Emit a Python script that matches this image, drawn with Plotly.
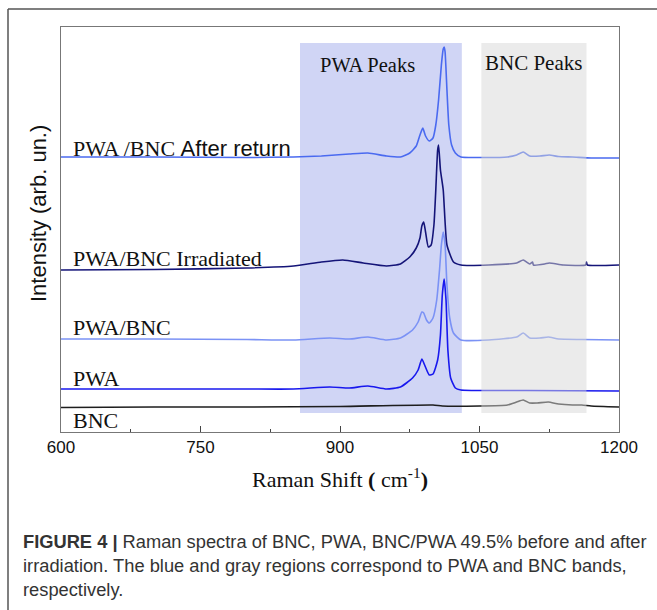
import plotly.graph_objects as go

# ---------------- data ----------------
after_x = [600, 700, 800, 850, 880, 910, 930, 950, 965, 975, 982, 986, 989, 992, 996, 1000, 1003, 1006, 1009, 1011, 1012, 1013, 1015, 1017, 1020, 1024, 1030, 1050, 1080, 1090, 1097, 1104, 1115, 1125, 1135, 1150, 1170, 1200]
after_y = [275, 275, 274.5, 275, 276, 278, 279, 276, 275, 279, 286, 297, 304, 296, 291, 294, 307, 332, 367, 383, 385, 380, 342, 307, 287, 279, 275, 274.5, 275, 277, 280, 276, 276, 277, 275.5, 275, 274, 274]

irr_x = [600, 700, 800, 850, 880, 903, 925, 950, 965, 975, 982, 986, 988, 990, 992, 995, 998, 1001, 1003, 1005, 1006, 1008, 1011, 1015, 1022, 1030, 1060, 1090, 1097, 1104, 1107, 1108, 1120, 1125, 1140, 1164, 1165, 1166, 1200]
irr_y = [162, 162.5, 164, 166, 170, 172, 169, 166, 168, 175, 184, 194, 206, 210, 200, 185, 187, 207, 242, 282, 287, 262, 242, 187, 170, 167, 167, 169, 172, 168, 170, 167, 168, 169, 167, 167, 170, 167, 167]

pb_x = [600, 700, 800, 850, 889, 910, 930, 950, 965, 978, 984, 988, 990, 993, 996, 1000, 1004, 1007, 1009, 1011, 1013, 1015, 1018, 1022, 1030, 1060, 1090, 1097, 1104, 1115, 1124, 1135, 1160, 1200]
pb_y = [93, 93, 92.5, 92, 94, 93, 95, 92, 94, 102, 110, 120, 119, 112, 109, 114, 132, 162, 187, 200, 187, 147, 114, 99, 92, 92, 95, 99, 94, 94, 95, 93, 92.5, 92]

pwa_x = [600, 700, 800, 850, 889, 910, 930, 950, 965, 978, 984, 988, 991, 996, 1000, 1005, 1008, 1010, 1012, 1014, 1016, 1019, 1024, 1030, 1100, 1200]
pwa_y = [43, 43, 43, 43, 45, 44, 46, 43, 45, 54, 62, 73, 67, 57, 58, 72, 97, 137, 153, 132, 82, 54, 44, 42, 41.5, 41]

bnc_x = [600, 700, 800, 900, 1000, 1010, 1050, 1080, 1090, 1097, 1104, 1112, 1124, 1135, 1150, 1160, 1170, 1200]
bnc_y = [24.5, 25, 25, 25.5, 27, 26, 26, 27, 30, 32, 29, 29, 30, 28, 27, 27, 26, 25]

labels = ["PWA /BNC <span style='font-family:Liberation Sans'>After return</span>",
          "PWA/BNC Irradiated", "PWA/BNC", "PWA", "BNC"]
label_y = [284, 174, 105, 54, 12]

x_ticks = [600, 750, 900, 1050, 1200]
pwa_band = [857, 1031]
bnc_band = [1052, 1165]
band_y = [19, 389]

# ---------------- figure ----------------
fig = go.Figure()
series = [
    (bnc_x, bnc_y, "#1e1e1e"),
    (pwa_x, pwa_y, "#1818ee"),
    (pb_x, pb_y, "#7b92f5"),
    (irr_x, irr_y, "#141478"),
    (after_x, after_y, "#4a6af0"),
]
for xs, ys, c in series:
    fig.add_trace(go.Scatter(x=xs, y=ys, mode="lines",
                             line=dict(color=c, width=1.6, shape="spline", smoothing=0.5),
                             hoverinfo="skip", showlegend=False))

L, R, T, B = 61, 38, 27, 178
W, H = 657, 610
pw = W - L - R
ph = H - T - B

def px(xp):
    return (xp - L) / pw

def py(yp):
    return (H - B - yp) / ph

shapes = [
    dict(type="rect", xref="x", yref="y", x0=pwa_band[0], x1=pwa_band[1], y0=band_y[0], y1=band_y[1],
         fillcolor="rgb(208,213,245)", line=dict(width=0), layer="below"),
    dict(type="rect", xref="x", yref="y", x0=bnc_band[0], x1=bnc_band[1], y0=band_y[0], y1=band_y[1],
         fillcolor="rgb(215,215,215)", opacity=0.5, line=dict(width=0), layer="above"),
    # outer figure frame (left and top)
    dict(type="line", xref="paper", yref="paper", x0=px(8), x1=px(8), y0=py(9), y1=py(612),
         line=dict(color="#555", width=1.5)),
    dict(type="line", xref="paper", yref="paper", x0=px(8), x1=px(660), y0=py(9), y1=py(9),
         line=dict(color="#555", width=1.5)),
]

annotations = []
for t, yv in zip(labels, label_y):
    annotations.append(dict(x=611, y=yv, xref="x", yref="y", text=t, showarrow=False,
                            xanchor="left", yanchor="middle",
                            font=dict(family="Liberation Serif", size=22, color="#111")))
annotations += [
    dict(x=930, y=367, xref="x", yref="y", text="PWA Peaks", showarrow=False,
         xanchor="center", yanchor="middle",
         font=dict(family="Liberation Serif", size=20.5, color="#111")),
    dict(x=1108, y=369, xref="x", yref="y", text="BNC Peaks", showarrow=False,
         xanchor="center", yanchor="middle",
         font=dict(family="Liberation Serif", size=21, color="#111")),
    dict(x=0.5, y=py(478), xref="paper", yref="paper",
         text="Raman Shift <b>(</b> cm<sup>-1</sup><b>)</b>", showarrow=False,
         xanchor="center", yanchor="middle",
         font=dict(family="Liberation Serif", size=22, color="#111")),
    dict(x=px(39), y=py(214), xref="paper", yref="paper", text="Intensity (arb. un.)",
         textangle=-90, showarrow=False, xanchor="center", yanchor="middle",
         font=dict(family="Liberation Sans", size=22, color="#111")),
    dict(x=px(21), y=py(541), xref="paper", yref="paper", xanchor="left", yanchor="middle",
         text="<b>FIGURE 4 |</b> Raman spectra of BNC, PWA, BNC/PWA 49.5% before and after",
         showarrow=False, font=dict(family="Liberation Sans", size=18.3, color="#333")),
    dict(x=px(21), y=py(565), xref="paper", yref="paper", xanchor="left", yanchor="middle",
         text="irradiation. The blue and gray regions correspond to PWA and BNC bands,",
         showarrow=False, font=dict(family="Liberation Sans", size=18.3, color="#333")),
    dict(x=px(21), y=py(589), xref="paper", yref="paper", xanchor="left", yanchor="middle",
         text="respectively.",
         showarrow=False, font=dict(family="Liberation Sans", size=18.3, color="#333")),
]

fig.update_layout(
    width=W, height=H,
    margin=dict(l=L, r=R, t=T, b=B, pad=0),
    paper_bgcolor="white", plot_bgcolor="white",
    shapes=shapes, annotations=annotations,
    xaxis=dict(range=[600, 1200], tickvals=x_ticks, ticks="inside", ticklen=6,
               tickcolor="#444", showgrid=False, zeroline=False,
               showline=True, linecolor="#777", linewidth=1, mirror=True,
               tickfont=dict(family="Liberation Sans", size=17, color="#111"),
               minor=dict(tickvals=[675, 825, 975, 1125], ticks="inside", ticklen=3, tickcolor="#444")),
    yaxis=dict(range=[0, ph], showticklabels=False, ticks="", showgrid=False, zeroline=False,
               showline=True, linecolor="#777", linewidth=1, mirror=True),
)

fig.write_html("out.html")
